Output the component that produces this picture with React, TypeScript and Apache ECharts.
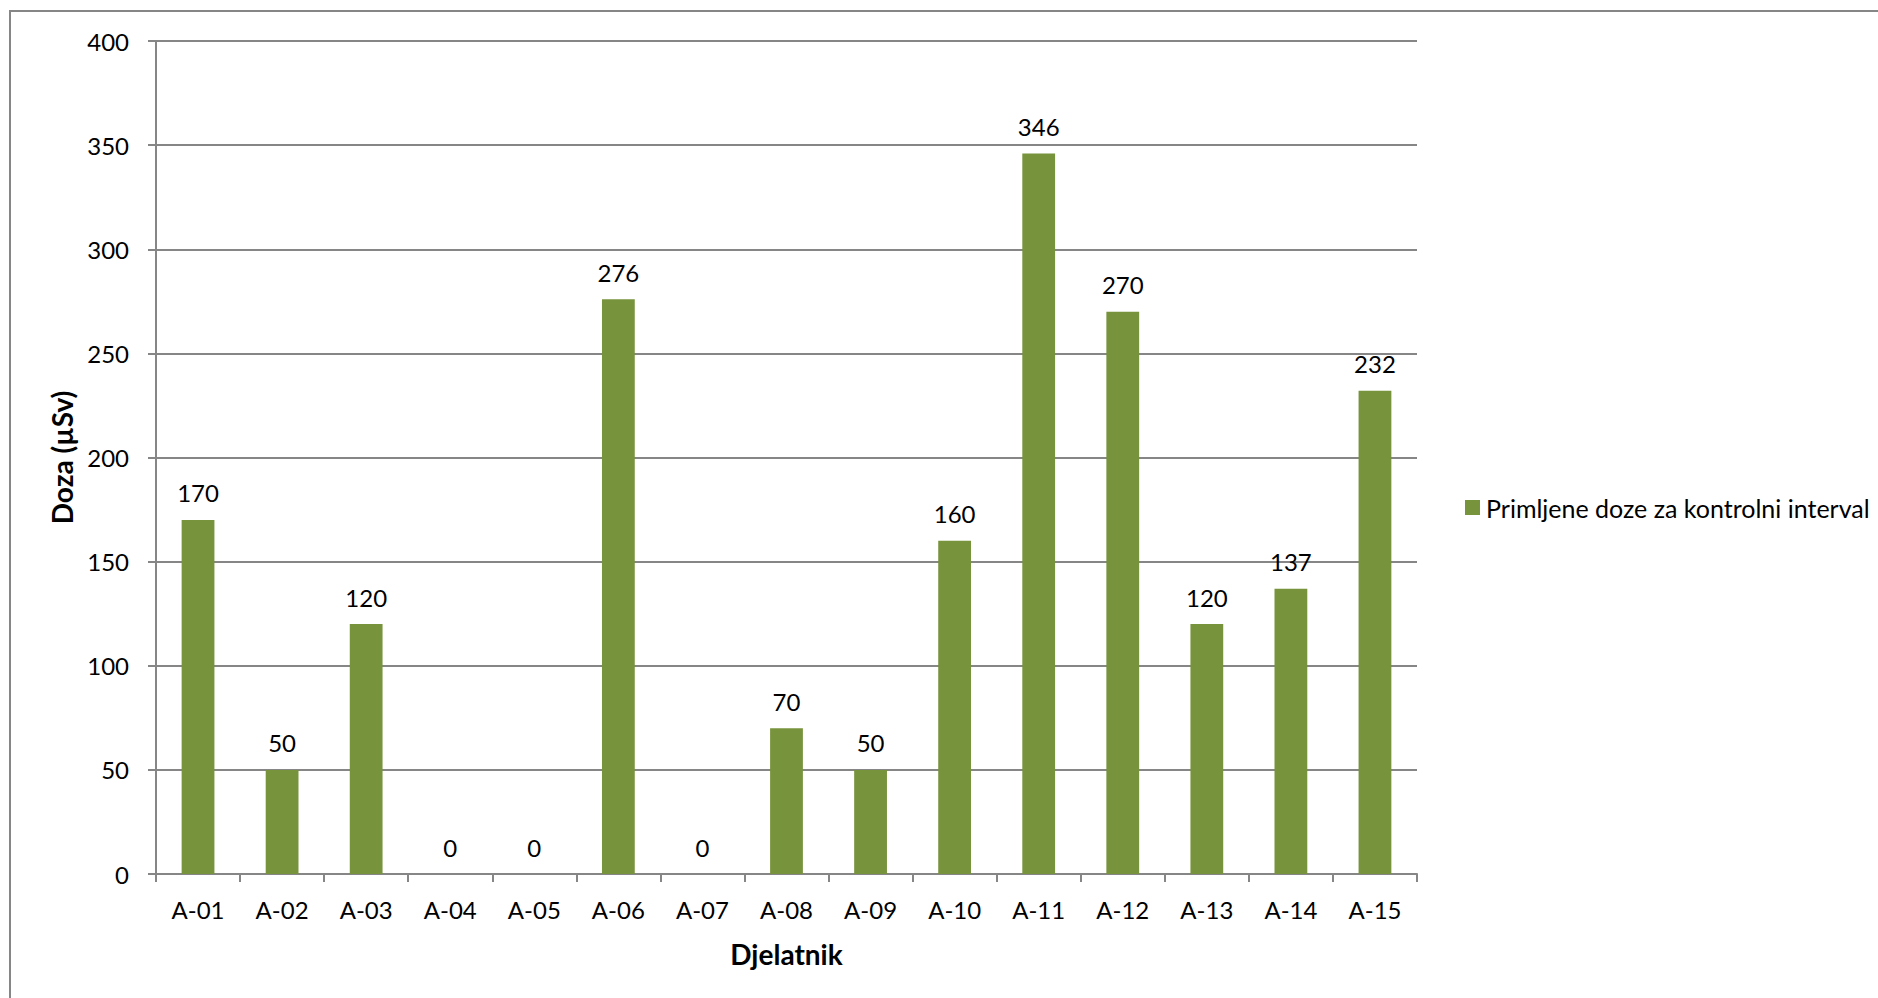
import React, { useEffect, useRef } from "react";
import * as echarts from "echarts";

const categories = ["A-01", "A-02", "A-03", "A-04", "A-05", "A-06", "A-07", "A-08", "A-09", "A-10", "A-11", "A-12", "A-13", "A-14", "A-15"];
const doses = [170, 50, 120, 0, 0, 276, 0, 70, 50, 160, 346, 270, 120, 137, 232];
const seriesName = "Primljene doze za kontrolni interval";
const yTitle = "Doza (µSv)";
const xTitle = "Djelatnik";

const FONT = "Lato";

export default function App() {
  const ref = useRef<HTMLDivElement>(null);
  useEffect(() => {
    const chart = echarts.init(ref.current!, undefined, { renderer: "svg" });
    chart.setOption({
      animation: false,
      backgroundColor: "#fff",
      textStyle: { fontFamily: FONT },
      grid: { left: 156, right: 461, top: 41, bottom: 124, outerBoundsMode: "none" },
      legend: {
        data: [seriesName],
        orient: "vertical",
        left: 1460,
        top: 490,
        itemWidth: 15,
        itemHeight: 15,
        itemGap: 0,
        icon: "rect",
        textStyle: { fontFamily: FONT, fontSize: 25, color: "#000", padding: [0, 0, 0, 1] },
      },
      xAxis: {
        type: "category",
        data: categories,
        name: xTitle,
        nameLocation: "middle",
        nameGap: 66,
        nameTextStyle: { fontFamily: FONT, fontSize: 28, fontWeight: "bold", color: "#000" },
        axisLine: { lineStyle: { color: "#868686", width: 2 } },
        axisTick: { show: true, length: 8, lineStyle: { color: "#868686", width: 2 } },
        axisLabel: { fontFamily: FONT, fontSize: 24, color: "#000", margin: 23 },
      },
      yAxis: {
        type: "value",
        min: 0,
        max: 400,
        interval: 50,
        name: yTitle,
        nameLocation: "middle",
        nameGap: 80,
        nameRotate: 90,
        nameTextStyle: { fontFamily: FONT, fontSize: 28, fontWeight: "bold", color: "#000" },
        axisLine: { show: true, lineStyle: { color: "#868686", width: 2 } },
        axisTick: { show: true, length: 8, lineStyle: { color: "#868686", width: 2 } },
        axisLabel: { fontFamily: FONT, fontSize: 24, color: "#000", margin: 27 },
        splitLine: { lineStyle: { color: "#868686", width: 2 } },
      },
      series: [
        {
          name: seriesName,
          type: "bar",
          data: doses,
          barWidth: "39%",
          itemStyle: { color: "#77933C" },
          label: { show: true, position: "top", distance: 15, fontFamily: FONT, fontSize: 24, color: "#000" },
        },
      ],
      graphic: [
        {
          type: "rect",
          shape: { x: 10, y: 11, width: 1900, height: 1000 },
          style: { fill: "none", stroke: "#868686", lineWidth: 2 },
          silent: true,
        },
      ],
    });
    return () => chart.dispose();
  }, []);
  return <div ref={ref} style={{ position: "fixed", left: 0, top: 0, width: 1878, height: 998 }} />;
}
